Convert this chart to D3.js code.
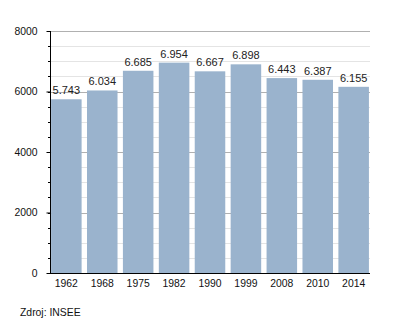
<!DOCTYPE html>
<html>
<head>
<meta charset="utf-8">
<script src="https://cdn.jsdelivr.net/npm/d3@7"></script>
<style>
  body { margin: 0; background: #fff; }
  text { font-family: "Liberation Sans", Arial, sans-serif; }
</style>
</head>
<body>
<div id="chart"></div>
<script>
var years = ["1962", "1968", "1975", "1982", "1990", "1999", "2008", "2010", "2014"];
var population = [5743, 6034, 6685, 6954, 6667, 6898, 6443, 6387, 6155];
var valueLabels = ["5.743", "6.034", "6.685", "6.954", "6.667", "6.898", "6.443", "6.387", "6.155"];
var yTicks = [0, 2000, 4000, 6000, 8000];

var width = 400,
    height = 323;

var margin = {top: 31, right: 30, bottom: 50, left: 50},
    w = width - margin.left - margin.right,
    h = height - margin.top - margin.bottom;

var fs = 10.4;

var svg = d3.select("#chart").append("svg")
    .attr("width", width)
    .attr("height", height),
    g = svg.append("g").attr("transform", "translate(" + margin.left + "," + margin.top + ")");

var x = d3.scaleBand()
    .domain(years)
    .range([0, w])
    .paddingInner(0.15)
    .paddingOuter(0.03);

var y = d3.scaleLinear()
    .domain([0, 8000])
    .range([h, 0]);

// minor grid every 500
g.append("g")
  .selectAll("line")
  .data(d3.range(500, 8000, 500).filter(function(d) { return d % 2000 != 0; }))
  .enter().append("line")
    .attr("x1", 0).attr("x2", w)
    .attr("y1", function(d) { return Math.round(y(d)) + 0.5; })
    .attr("y2", function(d) { return Math.round(y(d)) + 0.5; })
    .attr("stroke", "#e4e4e4");

// major grid
g.append("g")
  .selectAll("line")
  .data(yTicks.slice(1))
  .enter().append("line")
    .attr("x1", 0).attr("x2", w)
    .attr("y1", function(d) { return Math.round(y(d)) + 0.5; })
    .attr("y2", function(d) { return Math.round(y(d)) + 0.5; })
    .attr("stroke", "#b0b0b0");

g.append("g")
  .selectAll("rect")
  .data(population)
  .enter().append("rect")
    .attr("x", function(d, i) { return x(years[i]); })
    .attr("y", function(d) { return y(d); })
    .attr("width", x.bandwidth())
    .attr("height", function(d) { return h - y(d); })
    .attr("fill", "#9ab3cd");

g.append("g")
  .selectAll("text")
  .data(population)
  .enter().append("text")
    .attr("x", function(d, i) { return x(years[i]) + x.bandwidth() / 2; })
    .attr("y", function(d) { return y(d) - 5; })
    .attr("text-anchor", "middle")
    .attr("font-size", fs + 0.6)
    .attr("fill", "#222")
    .text(function(d, i) { return valueLabels[i]; });

// minor ticks on y axis
g.append("g")
  .selectAll("line")
  .data(d3.range(500, 8000, 500))
  .enter().append("line")
    .attr("x1", -2).attr("x2", 0)
    .attr("y1", function(d) { return Math.round(y(d)) + 0.5; })
    .attr("y2", function(d) { return Math.round(y(d)) + 0.5; })
    .attr("stroke", "#000");

var yAxis = g.append("g")
    .attr("transform", "translate(0.5,0)")
    .call(d3.axisLeft(y).tickValues(yTicks).tickSize(4).tickPadding(9).tickFormat(d3.format("d")));
yAxis.select(".domain").attr("d", "M0," + h + "V0");
yAxis.selectAll("text").attr("font-size", fs).attr("fill", "#111")
  .style("font-family", "Liberation Sans, Arial, sans-serif");

var xAxis = g.append("g")
    .attr("transform", "translate(0," + (h + 0.5) + ")")
    .call(d3.axisBottom(x).tickSize(0).tickPadding(6));
xAxis.select(".domain").attr("d", "M0,0H" + w);
xAxis.selectAll("text").attr("font-size", fs).attr("fill", "#111")
  .style("font-family", "Liberation Sans, Arial, sans-serif");

svg.append("text")
    .attr("x", 20)
    .attr("y", 316)
    .attr("font-size", fs)
    .attr("fill", "#111")
    .text("Zdroj: INSEE");
</script>
</body>
</html>
